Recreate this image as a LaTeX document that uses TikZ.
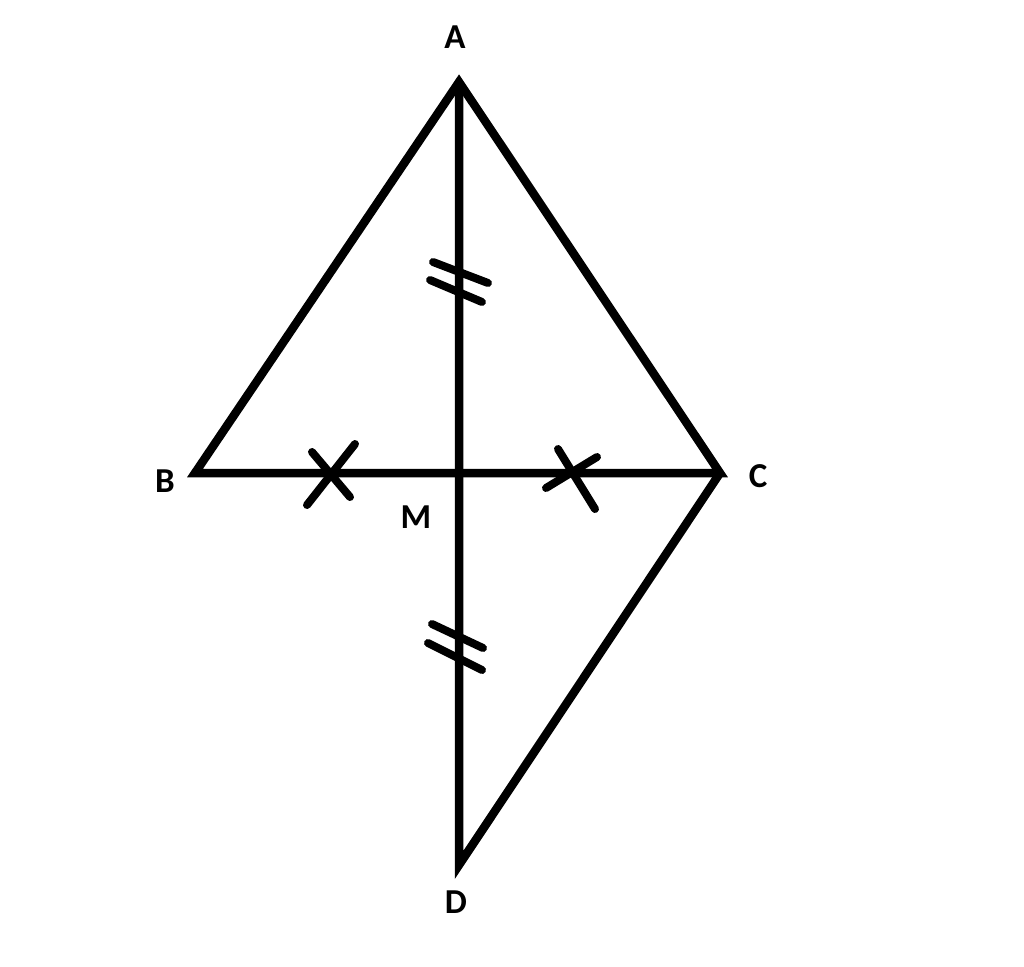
\documentclass[tikz,border=0pt]{standalone}
\usepackage{fontspec}
\setmainfont{Carlito}
\begin{document}
\begin{tikzpicture}[x=1pt,y=-1pt,
  seg/.style={line width=8.5pt,line join=miter,black},
  tick/.style={line width=8pt,line cap=round,black},
  lbl/.style={font=\bfseries\fontsize{35}{35}\selectfont,inner sep=0pt}]
\useasboundingbox[fill=white] (0,0) rectangle (1024,966);
\coordinate (A) at (459,82);
\coordinate (B) at (195,473);
\coordinate (C) at (720,473);
\coordinate (M) at (459,473);
\coordinate (D) at (459,865);
\draw[seg] (B) -- (A) -- (C) -- cycle;
\draw[seg] (C) -- (D) -- (A);
% double ticks
\draw[tick] (433,262) -- (488,283);
\draw[tick] (430,280) -- (482,302);
\draw[tick] (432,624) -- (483,648);
\draw[tick] (428,643) -- (482,670);
% crosses
\draw[tick] (307,505) -- (355,444);
\draw[tick] (312,452) -- (350,497);
\draw[tick] (558,449) -- (595,509);
\draw[tick] (546,488) -- (597,457);
\node[lbl] (lA) at (455,37) {A};
\node[lbl] (lB) at (165,481) {B};
\node[lbl] (lC) at (758,476) {C};
\node[lbl] (lM) at (416,517) {M};
\node[lbl] (lD) at (456,902) {D};
\end{tikzpicture}
\end{document}
